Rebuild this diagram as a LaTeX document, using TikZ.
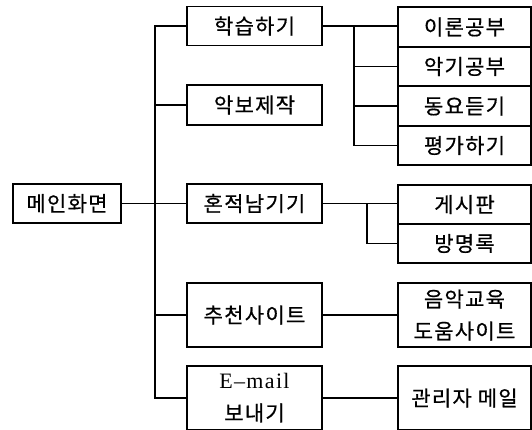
\documentclass[tikz,border=0pt]{standalone}
\usepackage{fontspec}
\newfontfamily\kr{Noto Sans CJK KR}[LetterSpace=6,FakeBold=0.6]
\newfontfamily\lat{Liberation Serif}[LetterSpace=6]
\begin{document}
\begin{tikzpicture}[x=1pt,y=-1pt,
  box/.style={draw,line width=1.5pt,rectangle,inner sep=0pt,align=center,
    font=\kr\fontsize{21}{32}\selectfont},
  lbox/.style={box,minimum width=135pt},
  rbox/.style={box,minimum width=133pt},
  conn/.style={line width=1.5pt}]
\useasboundingbox (0,0) rectangle (532,429);
% main
\node[box,minimum width=108pt,minimum height=39pt] (main) at (67,203.5) {메인화면};
% left column
\node[lbox,minimum height=39pt] (learn) at (254.5,26) {학습하기};
\node[lbox,minimum height=40pt] (score) at (254.5,105) {악보제작};
\node[lbox,minimum height=39pt] (trace) at (254.5,203.5) {혼적남기기};
\node[lbox,minimum height=64pt] (rec) at (254.5,315) {추천사이트};
\node[lbox,minimum height=64pt] (email) at (254.5,398) {{\lat\fontsize{22}{32}\selectfont E\textendash mail}\\보내기};
% right column
\node[rbox,minimum height=40pt] (theory) at (464.5,27) {이론공부};
\node[rbox,minimum height=39pt] (instr) at (464.5,66.5) {악기공부};
\node[rbox,minimum height=40pt] (song) at (464.5,106) {동요듣기};
\node[rbox,minimum height=39pt] (eval) at (464.5,145.5) {평가하기};
\node[rbox,minimum height=39pt] (board) at (464.5,204.5) {게시판};
\node[rbox,minimum height=39pt] (guest) at (464.5,243.5) {방명록};
\node[rbox,minimum height=64pt] (site) at (464.5,315) {음악교육\\도움사이트};
\node[rbox,minimum height=64pt] (admin) at (464.5,398) {관리자 메일};
% trunk
\coordinate (tr) at (155,0);
\draw[conn] (main.east) -- (trace.west);
\draw[conn] (learn.west) -- (learn.west -| tr) -- (email.west -| tr) -- (email.west);
\draw[conn] (score.west -| tr) -- (score.west);
\draw[conn] (rec.west -| tr) -- (rec.west);
% learning branch
\coordinate (b1) at (354,0);
\draw[conn] (learn.east) -- (theory.west |- learn.east);
\draw[conn] (learn.east -| b1) -- (eval.west -| b1) -- (eval.west);
\draw[conn] (instr.west -| b1) -- (instr.west);
\draw[conn] (song.west -| b1) -- (song.west);
% trace branch
\coordinate (b2) at (367,0);
\draw[conn] (trace.east) -- (board.west |- trace.east);
\draw[conn] (trace.east -| b2) -- (guest.west -| b2) -- (guest.west);
% others
\draw[conn] (rec.east) -- (site.west);
\draw[conn] (email.east) -- (admin.west);
\end{tikzpicture}
\end{document}
